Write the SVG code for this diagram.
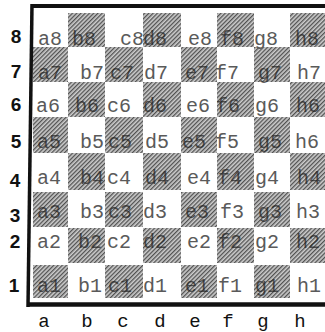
<svg xmlns="http://www.w3.org/2000/svg" width="325" height="332" viewBox="0 0 325 332">
<style>
.dk{fill:url(#hatch)}
.lb{font-family:"Liberation Mono","Courier New",monospace;font-size:20px;fill:#5a5a5a}
.lbd{fill:#1e1e1e;opacity:0.7}
.rk{font-family:"Liberation Sans",Arial,sans-serif;font-size:19px;font-weight:bold;fill:#111;text-anchor:middle}
.fl{font-family:"Liberation Mono","Courier New",monospace;font-size:19px;fill:#111;text-anchor:middle}
.bd{stroke:#111;fill:none}
</style>
<defs>
<pattern id="hatch" patternUnits="userSpaceOnUse" width="3" height="3" patternTransform="rotate(45)">
<rect width="3" height="3" fill="#cdcdcd"/>
<line x1="0.7" y1="0" x2="0.7" y2="3" stroke="#404040" stroke-width="1.15"/>
</pattern>
</defs>
<rect width="325" height="332" fill="#fff"/>
<g id="board">
<g id="sq-b8"><rect class="dk" x="68" y="13" width="37" height="34"/></g>
<g id="sq-d8"><rect class="dk" x="143" y="13" width="38" height="34"/></g>
<g id="sq-f8"><rect class="dk" x="217" y="13" width="37" height="34"/></g>
<g id="sq-h8"><rect class="dk" x="290" y="13" width="35" height="34"/></g>
<g id="sq-a7"><rect class="dk" x="33" y="47" width="35" height="35"/></g>
<g id="sq-c7"><rect class="dk" x="105" y="47" width="38" height="35"/></g>
<g id="sq-e7"><rect class="dk" x="181" y="47" width="36" height="35"/></g>
<g id="sq-g7"><rect class="dk" x="254" y="47" width="36" height="35"/></g>
<g id="sq-b6"><rect class="dk" x="68" y="82" width="37" height="35"/></g>
<g id="sq-d6"><rect class="dk" x="143" y="82" width="38" height="35"/></g>
<g id="sq-f6"><rect class="dk" x="217" y="82" width="37" height="35"/></g>
<g id="sq-h6"><rect class="dk" x="290" y="82" width="35" height="35"/></g>
<g id="sq-a5"><rect class="dk" x="33" y="117" width="35" height="36"/></g>
<g id="sq-c5"><rect class="dk" x="105" y="117" width="38" height="36"/></g>
<g id="sq-e5"><rect class="dk" x="181" y="117" width="36" height="36"/></g>
<g id="sq-g5"><rect class="dk" x="254" y="117" width="36" height="36"/></g>
<g id="sq-b4"><rect class="dk" x="68" y="153" width="37" height="37"/></g>
<g id="sq-d4"><rect class="dk" x="143" y="153" width="38" height="37"/></g>
<g id="sq-f4"><rect class="dk" x="217" y="153" width="37" height="37"/></g>
<g id="sq-h4"><rect class="dk" x="290" y="153" width="35" height="37"/></g>
<g id="sq-a3"><rect class="dk" x="33" y="192" width="35" height="35"/></g>
<g id="sq-c3"><rect class="dk" x="105" y="192" width="38" height="35"/></g>
<g id="sq-e3"><rect class="dk" x="181" y="192" width="36" height="35"/></g>
<g id="sq-g3"><rect class="dk" x="254" y="192" width="36" height="35"/></g>
<g id="sq-b2"><rect class="dk" x="68" y="228" width="37" height="35"/></g>
<g id="sq-d2"><rect class="dk" x="143" y="228" width="38" height="35"/></g>
<g id="sq-f2"><rect class="dk" x="217" y="228" width="37" height="35"/></g>
<g id="sq-h2"><rect class="dk" x="290" y="228" width="35" height="35"/></g>
<g id="sq-a1"><rect class="dk" x="33" y="265" width="35" height="33"/></g>
<g id="sq-c1"><rect class="dk" x="105" y="265" width="38" height="33"/></g>
<g id="sq-e1"><rect class="dk" x="181" y="265" width="36" height="33"/></g>
<g id="sq-g1"><rect class="dk" x="254" y="265" width="36" height="33"/></g>
</g>
<g id="frame">
<line class="bd" x1="31" y1="6" x2="325" y2="6" stroke-width="4"/>
<line class="bd" x1="32" y1="4" x2="28" y2="307" stroke-width="3.5"/>
<line class="bd" x1="27" y1="304.5" x2="325" y2="304.5" stroke-width="4.5"/>
</g>
<g id="labels" class="lb">
<text x="38" y="45">a8</text><text x="72" y="45" class="lbd">b8</text><text x="120" y="45">c8</text><text x="143" y="45" class="lbd">d8</text><text x="188" y="45">e8</text><text x="220" y="45" class="lbd">f8</text><text x="254" y="45">g8</text><text x="295" y="45" class="lbd">h8</text>
<text x="38" y="79" class="lbd">a7</text><text x="80" y="79">b7</text><text x="110" y="79" class="lbd">c7</text><text x="144" y="79">d7</text><text x="185" y="79" class="lbd">e7</text><text x="215" y="79">f7</text><text x="258" y="79" class="lbd">g7</text><text x="297" y="79">h7</text>
<text x="36" y="112">a6</text><text x="75" y="112" class="lbd">b6</text><text x="107" y="112">c6</text><text x="143" y="112" class="lbd">d6</text><text x="186" y="112">e6</text><text x="216" y="112" class="lbd">f6</text><text x="255" y="112">g6</text><text x="296" y="112" class="lbd">h6</text>
<text x="37" y="148" class="lbd">a5</text><text x="80" y="148">b5</text><text x="108" y="148" class="lbd">c5</text><text x="145" y="148">d5</text><text x="182" y="148" class="lbd">e5</text><text x="215" y="148">f5</text><text x="258" y="148" class="lbd">g5</text><text x="295" y="148">h6</text>
<text x="37" y="184">a4</text><text x="80" y="184" class="lbd">b4</text><text x="107" y="184">c4</text><text x="145" y="184" class="lbd">d4</text><text x="187" y="184">e4</text><text x="218" y="184" class="lbd">f4</text><text x="255" y="184">g4</text><text x="297" y="184" class="lbd">h4</text>
<text x="37" y="218" class="lbd">a3</text><text x="80" y="218">b3</text><text x="108" y="218" class="lbd">c3</text><text x="143" y="218">d3</text><text x="185" y="218" class="lbd">e3</text><text x="220" y="218">f3</text><text x="258" y="218" class="lbd">g3</text><text x="296" y="218">h3</text>
<text x="37" y="248">a2</text><text x="78" y="248" class="lbd">b2</text><text x="107" y="248">c2</text><text x="143" y="248" class="lbd">d2</text><text x="187" y="248">e2</text><text x="218" y="248" class="lbd">f2</text><text x="255" y="248">g2</text><text x="296" y="248" class="lbd">h2</text>
<text x="37" y="292" class="lbd">a1</text><text x="78" y="292">b1</text><text x="108" y="292" class="lbd">c1</text><text x="143" y="292">d1</text><text x="185" y="292" class="lbd">e1</text><text x="218" y="292">f1</text><text x="255" y="292" class="lbd">g1</text><text x="297" y="292">h1</text>
</g>
<g id="ranks" class="rk">
<text x="16" y="43">8</text><text x="16" y="78">7</text><text x="16" y="111">6</text><text x="16" y="148">5</text><text x="15" y="187">4</text><text x="15" y="222">3</text><text x="15" y="248">2</text><text x="14" y="292">1</text>
</g>
<g id="files" class="fl">
<text x="44" y="327">a</text><text x="87" y="327">b</text><text x="123" y="327">c</text><text x="160" y="327">d</text><text x="195" y="327">e</text><text x="228" y="327">f</text><text x="263" y="327">g</text><text x="300" y="327">h</text>
</g>
</svg>
